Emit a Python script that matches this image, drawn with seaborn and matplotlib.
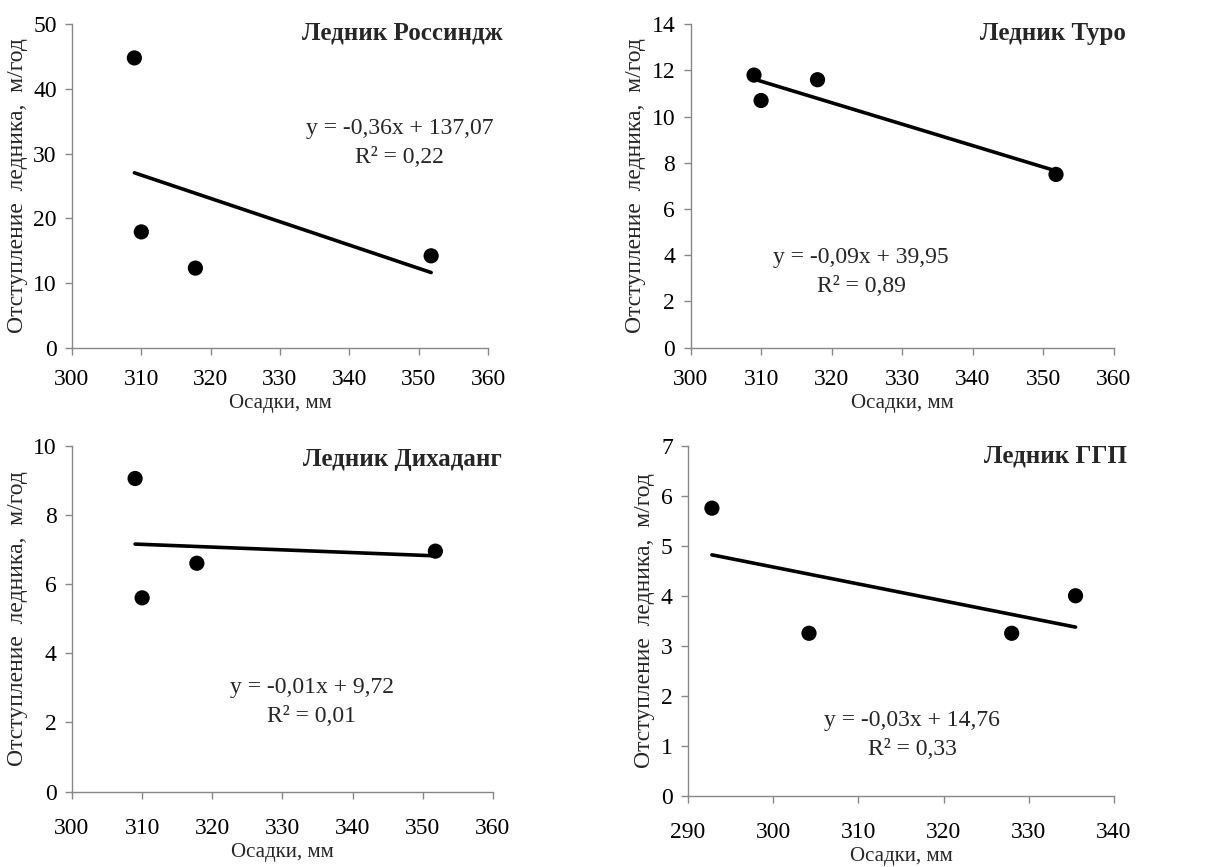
import numpy as np
import matplotlib
matplotlib.use("Agg")
import matplotlib.pyplot as plt
import seaborn as sns

# precipitation (mm) and glacier retreat (m/yr)
rossindzh_x = [309.0, 310.0, 317.8, 351.8]
rossindzh_y = [44.8, 17.9, 12.3, 14.2]

turo_x = [309.0, 310.0, 318.0, 351.8]
turo_y = [11.8, 10.7, 11.6, 7.5]

dikhadang_x = [309.0, 310.0, 317.8, 351.8]
dikhadang_y = [9.05, 5.6, 6.6, 6.95]

ggp_x = [292.8, 304.2, 328.0, 335.5]
ggp_y = [5.75, 3.25, 3.25, 4.0]

titles = ["Ледник Россиндж", "Ледник Туро", "Ледник Дихаданг", "Ледник ГГП"]
equations = [
    "y = -0,36x + 137,07\nR² = 0,22",
    "y = -0,09x + 39,95\nR² = 0,89",
    "y = -0,01x + 9,72\nR² = 0,01",
    "y = -0,03x + 14,76\nR² = 0,33",
]
x_limits = [(300, 360), (300, 360), (300, 360), (290, 340)]
y_limits = [(0, 50), (0, 14), (0, 10), (0, 7)]
y_steps = [10, 2, 2, 1]

sns.set_style("ticks")
plt.rcParams["font.family"] = ["Liberation Serif", "DejaVu Serif"]

fig = plt.figure(figsize=(12.2, 8.67), dpi=100)
axes = [
    fig.add_axes([0.059, 0.599, 0.341, 0.373]),
    fig.add_axes([0.566, 0.599, 0.347, 0.373]),
    fig.add_axes([0.059, 0.087, 0.345, 0.399]),
    fig.add_axes([0.564, 0.082, 0.349, 0.404]),
]

datasets = [
    (rossindzh_x, rossindzh_y),
    (turo_x, turo_y),
    (dikhadang_x, dikhadang_y),
    (ggp_x, ggp_y),
]
title_pos = [(1.034, 0.972), (1.028, 0.972), (1.02, 0.96), (1.03, 0.969)]
eq_pos = [(0.788, 0.633), (0.403, 0.235), (0.57, 0.26), (0.526, 0.174)]
x_pads = [10, 10, 14, 14]

spine_color = "#878787"

for i, ax in enumerate(axes):
    xs, ys = datasets[i]
    sns.regplot(
        x=np.array(xs), y=np.array(ys), ax=ax, ci=None, truncate=True,
        scatter_kws=dict(s=120, color="black", edgecolors="none", alpha=1),
        line_kws=dict(color="black", linewidth=2.6),
    )
    ax.set_xlim(*x_limits[i])
    ax.set_ylim(*y_limits[i])
    ax.set_xticks(np.arange(x_limits[i][0], x_limits[i][1] + 1, 10))
    ax.set_yticks(np.arange(y_limits[i][0], y_limits[i][1] + 0.01, y_steps[i]))

    sns.despine(ax=ax)
    for side in ("left", "bottom"):
        ax.spines[side].set_color(spine_color)
        ax.spines[side].set_linewidth(1.0)
    ax.tick_params(colors=spine_color, labelcolor="black", labelsize=17,
                   length=5, width=1.0, direction="out")
    ax.tick_params(axis="x", pad=x_pads[i])
    ax.tick_params(axis="y", pad=6)

    ax.set_xlabel("Осадки, мм", fontsize=15, labelpad=3)
    ax.set_ylabel("Отступление  ледника,  м/год", fontsize=17, labelpad=4)

    ax.text(title_pos[i][0], title_pos[i][1], titles[i], transform=ax.transAxes,
            ha="right", va="center", fontsize=18, fontweight="bold",
            clip_on=False)
    ax.text(eq_pos[i][0], eq_pos[i][1], equations[i], transform=ax.transAxes,
            ha="center", va="center", fontsize=17, linespacing=1.5)

fig.savefig("out.png", dpi=100, facecolor="white")
